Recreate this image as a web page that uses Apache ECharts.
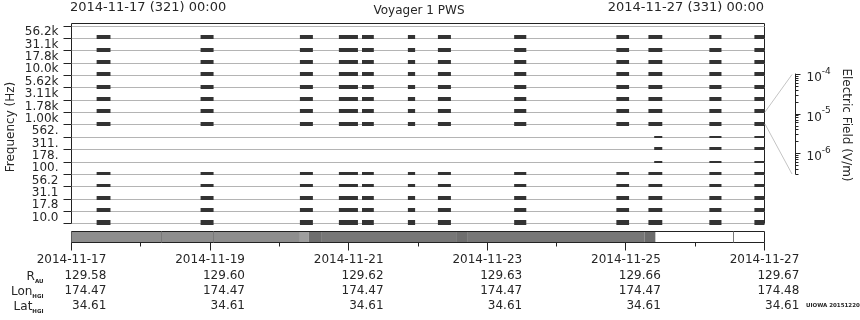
<!DOCTYPE html>
<html><head><meta charset="utf-8">
<script src="https://cdn.jsdelivr.net/npm/echarts@6/dist/echarts.min.js"></script>
<style>html,body{margin:0;padding:0;background:#fff}#c{width:860px;height:320px}</style>
</head><body><div id="c"></div>
<script>
// Frequency channels, top to bottom
const channels = ['56.2k','31.1k','17.8k','10.0k','5.62k','3.11k','1.78k','1.00k','562.','311.','178.','100.','56.2','31.1','17.8','10.0'];
// Observation bursts: hours after 2014-11-17 00:00
const burstStart = [8.7, 44.7, 79.1, 92.6, 100.6, 116.5, 126.9, 153.3, 188.7, 199.8, 220.9, 236.5];
const burstEnd   = [13.5, 49.2, 83.6, 99.2, 104.7, 119.0, 131.4, 157.5, 193.1, 204.6, 225.1, 240.0];
// relative intensity per channel (top to bottom) for each burst
const burstLevels = [
  [4,4,4,4,4,4,4,4,0,0,0,3,3,4,4,5],
  [4,4,4,4,4,4,4,4,0,0,0,3,3,4,4,5],
  [4,4,4,4,4,4,4,4,0,0,0,3,3,4,4,5],
  [4,4,4,4,4,4,4,4,0,0,0,3,3,4,4,5],
  [4,4,4,4,4,4,4,4,0,0,0,3,3,4,4,5],
  [4,4,4,4,4,4,4,4,0,0,0,3,3,4,4,5],
  [4,4,4,4,4,4,4,4,0,0,0,3,3,4,4,5],
  [4,4,4,4,4,4,4,4,0,0,0,3,3,4,4,5],
  [4,4,4,4,4,4,4,4,0,0,0,3,3,4,4,5],
  [4,4,4,4,4,4,4,4,0,0,0,3,3,4,4,5],
  [4,4,4,4,4,4,4,4,0,0,0,3,3,4,4,5],
  [4,4,4,4,4,4,4,4,0,0,0,3,3,4,4,5]
];
// Mid-band (562., 311., 178.) detections
const midStart = [201.8, 220.9, 236.5];
const midEnd   = [204.6, 225.1, 240.0];
const midChannels = [8, 9, 10];
const midLevels = [[2,3,2],[2,3,2],[2,3,2]];

// Coverage bar segments (hours) and grey level
const covStart = [0, 79.1, 82.2, 86.7, 133.2, 137.0, 198.4];
const covEnd   = [79.1, 82.2, 86.7, 133.2, 137.0, 198.4, 202.2];
const covGray  = [142, 158, 110, 119, 110, 119, 108];
const covMarks = [31.1, 49.0, 229.0];

// Bottom axis: tick hours, labelled hours and table
const dayTicks = [0, 24, 48, 72, 96, 120, 144, 168, 192, 216, 240];
const labelHours = [0, 48, 96, 144, 192, 240];
const dateLabels = ['2014-11-17','2014-11-19','2014-11-21','2014-11-23','2014-11-25','2014-11-27'];
const rAU    = ['129.58','129.60','129.62','129.63','129.66','129.67'];
const lonHGI = ['174.47','174.47','174.47','174.47','174.47','174.48'];
const latHGI = ['34.61','34.61','34.61','34.61','34.61','34.61'];

// Electric field colour-bar ticks (V/m)
const cbTicks = [3e-7,4e-7,5e-7,6e-7,7e-7,8e-7,9e-7,1e-6,2e-6,3e-6,4e-6,5e-6,6e-6,7e-6,8e-6,9e-6,1e-5,2e-5,3e-5,4e-5,5e-5,6e-5,7e-5,8e-5,9e-5,1e-4];

const TXT = '#262626';
const LINE = '#222';
const FONT = 'DejaVu Sans';

const cells = [];
burstStart.forEach((s, i) => {
  burstLevels[i].forEach((lv, ch) => { if (lv > 0) cells.push([s, burstEnd[i], ch, lv]); });
});
midStart.forEach((s, i) => {
  midLevels[i].forEach((lv, k) => { if (lv > 0) cells.push([s, midEnd[i], midChannels[k], lv]); });
});

function isPow10(v) { const l = Math.log10(v); return Math.abs(l - Math.round(l)) < 1e-6; }

const chart = echarts.init(document.getElementById('c'), null, {renderer: 'canvas', width: 860, height: 320});
chart.setOption({
  animation: false,
  textStyle: {fontFamily: FONT},
  grid: [
    {left: 71.5, top: 23.5, width: 693, height: 200, show: true, borderColor: LINE, borderWidth: 1, outerBoundsMode: 'none', containLabel: false},
    {left: 71.5, top: 231.5, width: 693, height: 11, show: true, borderColor: LINE, borderWidth: 1, outerBoundsMode: 'none', containLabel: false},
    {left: 795.5, top: 74, width: 20, height: 100, show: false, outerBoundsMode: 'none', containLabel: false}
  ],
  xAxis: [
    {gridIndex: 0, type: 'value', min: 0, max: 240, show: false, splitLine: {show: false}},
    {gridIndex: 1, type: 'value', min: 0, max: 240, show: false, splitLine: {show: false}},
    {gridIndex: 2, type: 'value', min: 0, max: 1, show: false, splitLine: {show: false}}
  ],
  yAxis: [
    {gridIndex: 0, type: 'value', min: 0, max: 16.2, interval: 1,
      axisLine: {show: false},
      axisTick: {show: true, length: 8, lineStyle: {color: LINE}, customValues: [0,1,2,3,4,5,6,7,8,9,10,11,12,13,14,15,16]},
      splitLine: {show: true, lineStyle: {color: '#b4b4b4', width: 1}},
      axisLabel: {
        color: TXT, fontFamily: FONT, fontSize: 12, margin: 13, verticalAlign: 'bottom', lineHeight: 12,
        showMinLabel: true, showMaxLabel: true, hideOverlap: false,
        customValues: [0,1,2,3,4,5,6,7,8,9,10,11,12,13,14,15],
        formatter: function (v) {
          const k = Math.round(v);
          if (Math.abs(v - k) > 1e-6 || k < 0 || k > 15) return '';
          return channels[15 - k];
        }
      }
    },
    {gridIndex: 1, type: 'value', min: 0, max: 1, show: false, splitLine: {show: false}},
    {gridIndex: 2, type: 'log', logBase: 10, min: 3e-7, max: 1e-4, position: 'left',
      axisLine: {show: true, lineStyle: {color: LINE}},
      axisTick: {show: false},
      splitLine: {show: false},
      axisLabel: {
        inside: true, margin: 11, color: TXT, fontFamily: FONT, showMinLabel: false,
        formatter: function (v) {
          if (!isPow10(v)) return '';
          return '{b|10}{s|' + Math.round(Math.log10(v)) + '}';
        },
        rich: {
          b: {fontSize: 12, lineHeight: 12, padding: [8, 0, 0, 0], color: TXT, fontFamily: FONT},
          s: {fontSize: 9, lineHeight: 14, verticalAlign: 'top', color: TXT, fontFamily: FONT}
        }
      }
    }
  ],
  series: [
    {
      type: 'custom', xAxisIndex: 0, yAxisIndex: 0, data: cells, encode: {x: [0, 1], y: 2},
      renderItem: function (params, api) {
        const s = api.value(0), e = api.value(1), ch = api.value(2), lv = api.value(3);
        const base = 15 - ch;
        const p0 = api.coord([s, base]);
        const p1 = api.coord([e, base]);
        const yb = Math.round(p0[1]) + 1;
        return {type: 'rect', shape: {x: p0[0], y: yb - lv, width: p1[0] - p0[0], height: lv}, style: {fill: '#333'}};
      }
    },
    {
      type: 'custom', xAxisIndex: 1, yAxisIndex: 1,
      data: covStart.map((s, i) => [s, covEnd[i], covGray[i]]), encode: {x: [0, 1]},
      renderItem: function (params, api) {
        const p0 = api.coord([api.value(0), 1]);
        const p1 = api.coord([api.value(1), 0]);
        const g = api.value(2);
        return {type: 'rect', shape: {x: p0[0], y: p0[1] + 0.5, width: p1[0] - p0[0], height: p1[1] - p0[1] - 1},
          style: {fill: 'rgb(' + g + ',' + g + ',' + g + ')'}};
      }
    },
    {
      type: 'custom', xAxisIndex: 1, yAxisIndex: 1, data: covMarks.map(m => [m]), encode: {x: 0},
      renderItem: function (params, api) {
        const p0 = api.coord([api.value(0), 1]);
        const p1 = api.coord([api.value(0), 0]);
        const x = Math.round(p0[0]) + 0.5;
        return {type: 'line', shape: {x1: x, y1: p0[1], x2: x, y2: p1[1]}, style: {stroke: '#7a7a7a', lineWidth: 1}};
      }
    },
    {
      type: 'custom', xAxisIndex: 1, yAxisIndex: 1, data: dayTicks.map(h => [h]), encode: {x: 0}, clip: false,
      renderItem: function (params, api) {
        const h = api.value(0);
        const p = api.coord([h, 0]);
        const x = Math.round(p[0] - 0.5) + 0.5;
        const len = (labelHours.indexOf(h) >= 0) ? 8 : 4;
        return {type: 'line', shape: {x1: x, y1: p[1], x2: x, y2: p[1] + len}, style: {stroke: LINE, lineWidth: 1}};
      }
    },
    {
      type: 'custom', xAxisIndex: 1, yAxisIndex: 1, data: labelHours.map((h, i) => [h, i]), encode: {x: 0}, clip: false,
      renderItem: function (params, api) {
        const i = api.value(1);
        const p = api.coord([api.value(0), 0]);
        return {type: 'text', x: p[0], y: p[1] + 10,
          style: {
            text: '{d|' + dateLabels[i] + '}\n{v|' + rAU[i] + '}\n{v|' + lonHGI[i] + '}\n{v|' + latHGI[i] + '}',
            align: 'center', verticalAlign: 'top', fill: TXT, fontFamily: FONT, fontSize: 12,
            rich: {
              d: {fontSize: 12, lineHeight: 15.3, fill: TXT, fontFamily: FONT},
              v: {fontSize: 12, lineHeight: 15.3, fill: TXT, fontFamily: FONT, align: 'right'}
            }
          }};
      }
    },
    {
      type: 'custom', xAxisIndex: 2, yAxisIndex: 2, data: cbTicks.map(v => [0, v]), encode: {x: 0, y: 1},
      renderItem: function (params, api) {
        const v = api.value(1);
        const p = api.coord([0, v]);
        const y = Math.round(p[1]) + 0.5;
        const len = isPow10(v) ? 5 : 3;
        return {type: 'line', shape: {x1: p[0], y1: y, x2: p[0] + len, y2: y}, style: {stroke: LINE, lineWidth: 1}};
      }
    }
  ],
  graphic: [
    {type: 'text', left: 70, top: 1, style: {text: '2014-11-17 (321) 00:00', fill: TXT, font: '13px "DejaVu Sans"'}},
    {type: 'text', right: 96, top: 1, style: {text: '2014-11-27 (331) 00:00', fill: TXT, font: '13px "DejaVu Sans"'}},
    {type: 'text', x: 419, y: 11, style: {text: 'Voyager 1 PWS', fill: TXT, font: '12px "DejaVu Sans"', align: 'center', verticalAlign: 'middle'}},
    {type: 'text', x: 11, y: 127, rotation: Math.PI / 2, style: {text: 'Frequency (Hz)', fill: TXT, font: '12px "DejaVu Sans"', align: 'center', verticalAlign: 'middle'}},
    {type: 'text', x: 846, y: 125, rotation: -Math.PI / 2, style: {text: 'Electric Field (V/m)', fill: TXT, font: '12px "DejaVu Sans"', align: 'center', verticalAlign: 'middle'}},
    {type: 'polyline', shape: {points: [[765, 112], [792, 74.5]]}, style: {stroke: '#c4c4c4', lineWidth: 1, fill: null}},
    {type: 'polyline', shape: {points: [[765, 124], [792, 174]]}, style: {stroke: '#c4c4c4', lineWidth: 1, fill: null}},
    {type: 'text', x: 43.5, y: 269, style: {
      text: '{m|R}{s|AU}\n{m|Lon}{s|HGI}\n{m|Lat}{s|HGI}', align: 'right', verticalAlign: 'top',
      rich: {
        m: {fontSize: 12, lineHeight: 15.3, fill: TXT, fontFamily: FONT},
        s: {fontSize: 5.5, fontWeight: 'bold', lineHeight: 9, verticalAlign: 'bottom', fill: TXT, fontFamily: FONT}
      }
    }},
    {type: 'text', x: 806, y: 306, style: {text: 'UIOWA 20151220', fill: TXT, font: 'bold 5.5px "DejaVu Sans"', verticalAlign: 'middle'}}
  ]
});
</script></body></html>
